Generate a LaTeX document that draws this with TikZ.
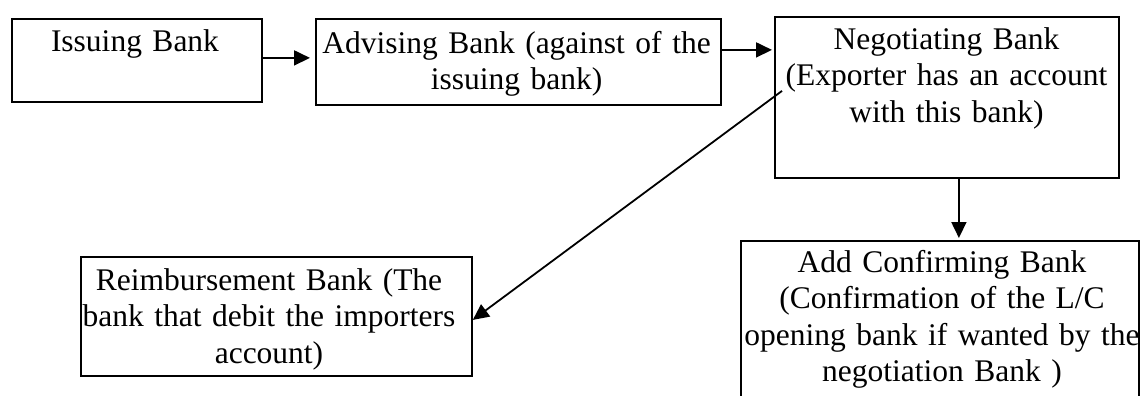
\documentclass[tikz,border=0pt]{standalone}
\usepackage{fontspec}
\setmainfont{Liberation Serif}
\usetikzlibrary{arrows.meta}

\begin{document}
\begin{tikzpicture}[x=1pt, y=-1pt,
  frame/.style={draw=black, line width=1.8pt, inner sep=0pt, anchor=north west},
  txt/.style={anchor=north, inner sep=0pt, align=center,
    font=\fontsize{31.5}{36.5}\selectfont},
  arr/.style={draw=black, line width=1.8pt,
    -{Triangle[length=16pt, width=15pt]}}]
  \clip (0,0) rectangle (1140,396);
  \fill[white] (0,0) rectangle (1140,396);

  % boxes
  \node[frame, minimum width=250pt, minimum height=83pt]  (b1) at (11,18) {};
  \node[frame, minimum width=405pt, minimum height=86pt]  (b2) at (315,18) {};
  \node[frame, minimum width=344pt, minimum height=161pt] (b3) at (774,16) {};
  \node[frame, minimum width=398pt, minimum height=200pt] (b4) at (740,240) {};
  \node[frame, minimum width=391pt, minimum height=119pt] (b5) at (80,256) {};

  % box texts
  \node[txt, text width=240pt] (t1) at (135,25.5) {\strut Issuing Bank};
  \node[txt, text width=400pt] (t2) at (516.5,27.5)
    {\strut Advising Bank (against of the\\ issuing bank)};
  \node[txt, text width=340pt] (t3) at (946.5,23.5)
    {\strut Negotiating Bank\\ (Exporter has an account\\ with this bank)};
  \node[txt, text width=396pt] (t4) at (942,246.5)
    {\strut Add Confirming Bank\\ (Confirmation of the L/C\\ opening bank if wanted by the\\ negotiation Bank )};
  \node[txt, text width=385pt] (t5) at (269,264.5)
    {\strut Reimbursement Bank (The\\ bank that debit the importers\\ account)};

  % connectors
  \draw[arr, shorten >=5pt] ([yshift=2.5pt]b1.east) -- ([yshift=2.5pt]b1.east -| b2.west);
  \draw[arr, shorten >=2pt] ([yshift=12pt]b2.east) -- ([yshift=12pt]b2.east -| b3.west);
  \draw[arr, shorten >=2pt] ([xshift=12pt]b3.south) -- ([xshift=12pt]b3.south |- b4.north);
  \coordinate (dstart) at ([shift={(8pt,6.5pt)}]b3.west);
  \draw[arr] (dstart) -- ([yshift=-3.5pt]b5.east);
\end{tikzpicture}
\end{document}
